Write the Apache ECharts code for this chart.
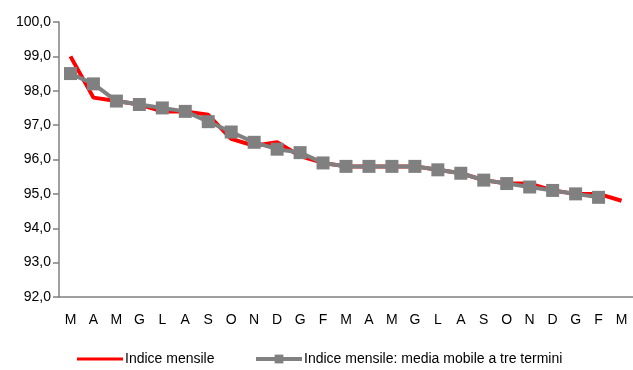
<!DOCTYPE html>
<html><head><meta charset="utf-8">
<script src="https://cdn.jsdelivr.net/npm/echarts@6/dist/echarts.min.js"></script>
<style>html,body{margin:0;padding:0;background:#fff}#c{width:633px;height:370px}</style>
</head><body><div id="c"></div>
<script>
const categories = ['M','A','M','G','L','A','S','O','N','D','G','F','M','A','M','G','L','A','S','O','N','D','G','F','M'];
const indiceMensile = [99.0,97.8,97.7,97.6,97.4,97.4,97.3,96.6,96.4,96.5,96.1,95.9,95.8,95.8,95.8,95.8,95.7,95.6,95.4,95.3,95.3,95.1,95.0,95.0,94.8];
const mediaMobile = [98.5,98.2,97.7,97.6,97.5,97.4,97.1,96.8,96.5,96.3,96.2,95.9,95.8,95.8,95.8,95.8,95.7,95.6,95.4,95.3,95.2,95.1,95.0,94.9,null];
const yTicks = {min: 92, max: 100, interval: 1};
const font = '"Liberation Sans Narrow","Arial Narrow","Liberation Sans",Arial,sans-serif';
const chart = echarts.init(document.getElementById('c'), null, {renderer:'canvas'});
const legendText = {fontFamily: font, fontSize: 14, color: '#000', padding: [0,0,0,-3]};
chart.setOption({
  animation: false,
  grid: {left: 59, right: 0, top: 22, bottom: 73, containLabel: false},
  legend: [
    {top: 347, left: 72, itemWidth: 46, itemHeight: 12, textStyle: legendText,
      data: [{name: 'Indice mensile', icon: 'path://M0,5L46,5L46,8L0,8Z', itemStyle:{color:'#ff0000'}}]},
    {top: 347, left: 249, itemWidth: 46, itemHeight: 11, textStyle: legendText,
      lineStyle: {width: 4, color: '#808080'},
      data: [{name: 'Indice mensile: media mobile a tre termini'}]}
  ],
  xAxis: {
    type: 'category', data: categories, boundaryGap: true,
    axisLine: {lineStyle: {color: '#808080', width: 1.5}},
    axisTick: {show: false},
    axisLabel: {fontFamily: font, fontSize: 14, color: '#000', margin: 16, interval: 0}
  },
  yAxis: {
    type: 'value', min: yTicks.min, max: yTicks.max, interval: yTicks.interval,
    axisLine: {show: true, lineStyle: {color: '#808080', width: 1.5}},
    axisTick: {show: true, length: 6, lineStyle: {color: '#808080', width: 1.5}},
    splitLine: {show: false},
    axisLabel: {fontFamily: font, fontSize: 14, color: '#000', margin: 8,
      formatter: v => v.toFixed(1).replace('.', ',')}
  },
  series: [
    {name: 'Indice mensile', type: 'line', data: indiceMensile, symbol: 'none',
      lineStyle: {color: '#ff0000', width: 4}, itemStyle: {color: '#ff0000'}},
    {name: 'Indice mensile: media mobile a tre termini', type: 'line', data: mediaMobile,
      symbol: 'rect', symbolSize: 13, showAllSymbol: true,
      lineStyle: {color: '#808080', width: 4}, itemStyle: {color: '#808080'}}
  ]
});
</script></body></html>
